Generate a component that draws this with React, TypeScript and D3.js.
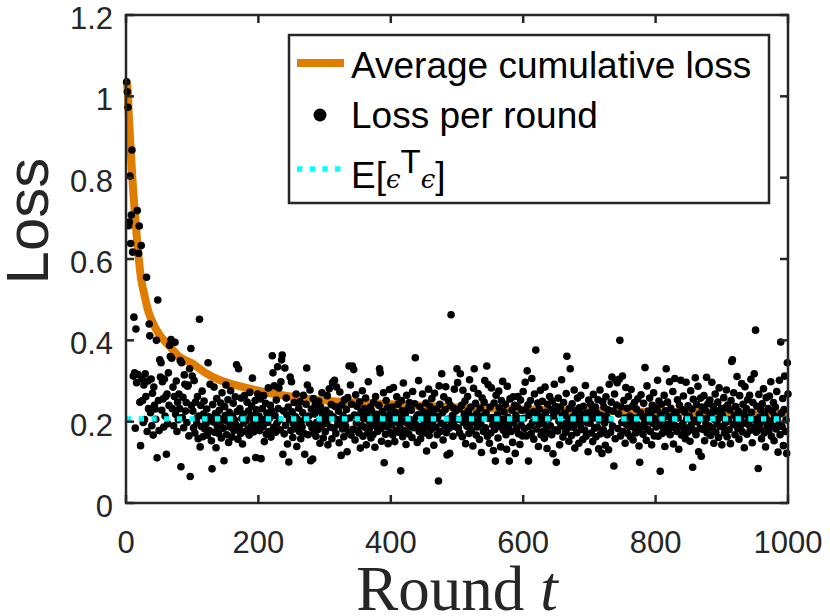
import React from "react";
import * as d3 from "d3";

// ---- data ----
// loss per round t = 1..1000, in thousandths
const lossPerRoundMilli: number[] = [
  1036, 1011, 973, 682, 691, 804, 638, 708, 868, 617,
  312, 457, 320, 184, 428, 296, 719, 316, 614, 681,
  248, 141, 633, 305, 252, 198, 290, 205, 318, 262,
  555, 176, 300, 232, 440, 411, 222, 305, 190, 270,
  167, 285, 240, 231, 206, 400, 111, 499, 252, 178,
  352, 310, 345, 228, 298, 256, 187, 305, 214, 262,
  120, 268, 195, 320, 240, 388, 360, 402, 356, 232,
  285, 190, 262, 395, 218, 300, 176, 248, 205, 268,
  232, 350, 89, 345, 210, 260, 185, 315, 292, 226,
  247, 198, 287, 290, 165, 330, 65, 380, 240, 312,
  226, 185, 301, 172, 248, 207, 196, 262, 158, 214,
  452, 138, 240, 188, 275, 163, 219, 251, 182, 204,
  195, 231, 167, 345, 212, 178, 292, 206, 153, 84,
  242, 199, 285, 174, 220, 136, 257, 188, 210, 171,
  228, 193, 246, 160, 271, 205, 184, 104, 237, 215,
  290, 168, 201, 254, 149, 223, 187, 276, 198, 162,
  213, 245, 178, 204, 261, 192, 340, 225, 157, 330,
  186, 232, 171, 258, 208, 145, 219, 197, 264, 176,
  203, 105, 248, 181, 226, 167, 272, 210, 189, 238,
  307, 194, 175, 216, 252, 112, 229, 183, 268, 201,
  214, 178, 256, 109, 193, 232, 187, 264, 151, 206,
  245, 169, 221, 198, 283, 176, 209, 240, 162, 227,
  362, 320, 186, 288, 215, 174, 253, 196, 335, 232,
  283, 204, 180, 298, 352, 364, 120, 226, 170, 332,
  191, 258, 217, 145, 236, 101, 205, 310, 178, 298,
  224, 161, 195, 247, 183, 212, 268, 139, 206, 190,
  233, 176, 249, 158, 201, 187, 222, 265, 171, 120,
  208, 243, 332, 290, 168, 214, 196, 278, 104, 231,
  185, 108, 257, 173, 219, 242, 164, 198, 226, 181,
  250, 202, 147, 236, 189, 271, 213, 160, 224, 195,
  175, 228, 196, 264, 143, 207, 281, 219, 186, 242,
  158, 296, 212, 184, 302, 237, 171, 285, 205, 193,
  226, 148, 273, 199, 117, 241, 182, 215, 163, 254,
  201, 188, 230, 126, 259, 174, 337, 209, 290, 167,
  243, 337, 181, 328, 216, 155, 266, 197, 238, 178,
  211, 172, 249, 135, 224, 190, 276, 164, 207, 232,
  186, 258, 143, 219, 171, 298, 202, 184, 236, 160,
  227, 195, 168, 247, 211, 137, 262, 189, 218, 176,
  204, 240, 330, 320, 183, 152, 225, 198, 271, 99,
  215, 169, 252, 188, 234, 146, 206, 279, 173, 221,
  192, 236, 167, 284, 208, 151, 223, 179, 261, 198,
  243, 174, 210, 186, 79, 252, 227, 163, 295, 201,
  178, 219, 144, 265, 196, 232, 170, 247, 205, 188,
  228, 161, 274, 202, 185, 244, 357, 193, 212, 149,
  217, 301, 176, 236, 158, 209, 189, 268, 224, 172,
  205, 183, 246, 128, 221, 195, 280, 166, 238, 210,
  181, 257, 199, 225, 142, 270, 207, 186, 231, 168,
  212, 54, 288, 243, 176, 196, 318, 222, 155, 261,
  190, 229, 286, 173, 118, 206, 252, 184, 122, 240,
  463, 197, 215, 164, 233, 280, 188, 226, 206, 330,
  296, 184, 231, 172, 318, 205, 240, 163, 277, 198,
  219, 251, 146, 208, 189, 262, 226, 171, 303, 194,
  236, 178, 213, 140, 282, 330, 199, 245, 167, 220,
  187, 269, 203, 156, 233, 195, 124, 258, 214, 176,
  248, 301, 185, 222, 337, 164, 291, 208, 147, 236,
  172, 283, 210, 192, 129, 246, 181, 103, 265, 200,
  217, 160, 275, 234, 188, 138, 252, 206, 299, 179,
  224, 194, 243, 168, 132, 287, 211, 185, 103, 256,
  203, 176, 228, 149, 261, 197, 240, 122, 215, 183,
  237, 262, 170, 207, 144, 253, 191, 228, 165, 274,
  208, 183, 297, 229, 165, 325, 241, 103, 216, 188,
  252, 171, 306, 198, 224, 157, 268, 203, 376, 182,
  219, 246, 139, 231, 194, 277, 168, 212, 250, 176,
  201, 159, 285, 223, 186, 134, 243, 207, 172, 262,
  190, 229, 168, 251, 121, 214, 292, 180, 237, 100,
  226, 177, 258, 201, 143, 236, 189, 303, 215, 162,
  247, 195, 221, 174, 269, 361, 184, 208, 152, 233,
  330, 199, 166, 244, 212, 186, 278, 135, 227, 201,
  173, 258, 210, 147, 234, 192, 265, 181, 219, 156,
  238, 205, 179, 289, 164, 221, 197, 126, 253, 214,
  196, 243, 172, 228, 151, 267, 209, 184, 236, 163,
  221, 187, 254, 133, 204, 278, 170, 215, 122, 249,
  180, 236, 197, 142, 261, 213, 168, 229, 131, 292,
  205, 174, 248, 310, 189, 226, 91, 268, 158, 302,
  241, 296, 183, 219, 304, 400, 165, 236, 198, 312,
  176, 252, 209, 147, 284, 193, 233, 171, 262, 188,
  214, 163, 279, 201, 238, 155, 186, 247, 209, 172,
  231, 194, 256, 178, 140, 100, 222, 266, 187, 213,
  169, 245, 197, 333, 211, 154, 288, 182, 226, 201,
  258, 176, 219, 143, 240, 196, 271, 165, 207, 234,
  187, 229, 302, 164, 251, 196, 78, 218, 243, 171,
  206, 184, 265, 139, 227, 330, 192, 248, 175, 212,
  298, 168, 233, 201, 186, 274, 145, 219, 306, 190,
  223, 176, 254, 209, 132, 241, 188, 302, 167, 230,
  196, 263, 181, 224, 158, 297, 207, 174, 239, 185,
  213, 152, 276, 192, 231, 88, 255, 178, 204, 308,
  168, 242, 199, 287, 126, 219, 183, 258, 115, 236,
  207, 181, 264, 153, 228, 195, 309, 172, 244, 211,
  189, 253, 166, 221, 297, 184, 238, 147, 205, 268,
  174, 226, 195, 248, 161, 283, 209, 188, 232, 143,
  216, 187, 259, 172, 234, 198, 278, 163, 241, 205,
  180, 229, 146, 252, 348, 352, 193, 271, 215, 168,
  237, 201, 311, 184, 226, 157, 264, 209, 192, 294,
  175, 243, 218, 136, 286, 197, 232, 169, 254, 211,
  192, 265, 179, 304, 223, 148, 247, 186, 318, 205,
  425, 174, 238, 196, 85, 267, 211, 183, 229, 158,
  244, 199, 281, 172, 216, 138, 259, 205, 187, 232,
  177, 263, 201, 298, 164, 226, 189, 247, 153, 214,
  236, 182, 274, 209, 125, 193, 302, 168, 396, 221,
  188, 257, 141, 230, 312, 176, 204, 122, 345, 268,
];

// average cumulative loss, read at selected rounds
const avgRounds: number[] = [1, 2, 3, 4, 5, 6, 8, 10, 13, 16, 19, 23, 28, 34, 40, 50, 66, 80, 100, 120, 142, 170, 200, 243, 293, 350, 400, 500, 600, 700, 800, 900, 1000];
const avgLoss: number[] = [1.036, 1.024, 1.007, 0.96, 0.93, 0.9, 0.845, 0.79, 0.72, 0.66, 0.605, 0.55, 0.51, 0.47, 0.445, 0.415, 0.385, 0.36, 0.343, 0.32, 0.302, 0.288, 0.276, 0.263, 0.253, 0.247, 0.243, 0.235, 0.23, 0.227, 0.224, 0.222, 0.219];

const noiseLevel = 0.207; // E[eps^T eps]

const xTicks: number[] = [0, 200, 400, 600, 800, 1000];
const yTicks: number[] = [0, 0.2, 0.4, 0.6, 0.8, 1, 1.2];
const legendLabels: string[] = ["Average cumulative loss", "Loss per round"];

// ---- styles ----
const W = 830;
const H = 616;
const axisColor = "#262626";
const orange = "#E07D00";
const cyan = "#00FFFF";
const sans = "'Liberation Sans', Arial, Helvetica, sans-serif";
const serif = "'Liberation Serif', 'Times New Roman', serif";

export default function App() {
  const left = 126, right = 788, top = 15, bottom = 503;
  const x = d3.scaleLinear().domain([0, 1000]).range([left, right]);
  const y = d3.scaleLinear().domain([0, 1.2]).range([bottom, top]);

  const points = lossPerRoundMilli.map((v, i) => ({ t: i + 1, v: v / 1000 }));
  const avg = avgRounds.map((t, i) => ({ t, v: avgLoss[i] }));

  const line = d3
    .line<{ t: number; v: number }>()
    .x((d) => x(d.t))
    .y((d) => y(d.v))
    .curve(d3.curveMonotoneX);

  const tickLen = 8;
  const axW = 2.5;

  return (
    <div style={{ position: "absolute", left: 0, top: 0 }}>
      <svg width={W} height={H} style={{ display: "block", background: "#fff" }}>
        <rect x={0} y={0} width={W} height={H} fill="#fff" />
        {/* average cumulative loss */}
        <path d={line(avg) || ""} fill="none" stroke={orange} strokeWidth={8} strokeLinejoin="round" />
        {/* loss per round */}
        <g fill="#000">
          {points.map((p) => (
            <circle key={p.t} cx={x(p.t)} cy={y(p.v)} r={3.8} />
          ))}
        </g>
        {/* noise level */}
        <line
          x1={x(0)}
          x2={x(1000)}
          y1={y(noiseLevel)}
          y2={y(noiseLevel)}
          stroke={cyan}
          strokeWidth={5.3}
          strokeDasharray="5.3 7.4"
        />
        {/* axes box */}
        <rect x={left} y={top} width={right - left} height={bottom - top} fill="none" stroke={axisColor} strokeWidth={axW} />
        {xTicks.map((t) => (
          <g key={"x" + t}>
            <line x1={x(t)} x2={x(t)} y1={bottom} y2={bottom - tickLen} stroke={axisColor} strokeWidth={axW} />
            <line x1={x(t)} x2={x(t)} y1={top} y2={top + tickLen} stroke={axisColor} strokeWidth={axW} />
            <text x={x(t)} y={553} textAnchor="middle" fontFamily={sans} fontSize={31} fill={axisColor}>
              {t}
            </text>
          </g>
        ))}
        {yTicks.map((v) => (
          <g key={"y" + v}>
            <line x1={left} x2={left + tickLen} y1={y(v)} y2={y(v)} stroke={axisColor} strokeWidth={axW} />
            <line x1={right} x2={right - tickLen} y1={y(v)} y2={y(v)} stroke={axisColor} strokeWidth={axW} />
            <text x={113} y={y(v) + 14} textAnchor="end" fontFamily={sans} fontSize={31} fill={axisColor}>
              {String(v)}
            </text>
          </g>
        ))}
        {/* axis labels */}
        <text transform="translate(48,221) rotate(-90)" textAnchor="middle" fontFamily={sans} fontSize={60} fill={axisColor}>
          Loss
        </text>
        <text x={457} y={610} textAnchor="middle" fontFamily={serif} fontSize={63} fill={axisColor}>
          Round <tspan fontStyle="italic">t</tspan>
        </text>
        {/* legend */}
        <g>
          <rect x={289} y={35} width={480} height={168} fill="#fff" stroke={axisColor} strokeWidth={axW} />
          <line x1={297} x2={344} y1={63} y2={63} stroke={orange} strokeWidth={8} />
          <text x={351} y={78} fontFamily={sans} fontSize={37} fill="#000">
            {legendLabels[0]}
          </text>
          <circle cx={320} cy={115} r={6.5} fill="#000" />
          <text x={351} y={128} fontFamily={sans} fontSize={37} fill="#000">
            {legendLabels[1]}
          </text>
          <line x1={297} x2={344} y1={169} y2={169} stroke={cyan} strokeWidth={5.3} strokeDasharray="5.3 7.4" />
          <text x={351} y={188} fontFamily={sans} fontSize={37} fill="#000">
            E[
            <tspan fontFamily="'DejaVu Serif', serif" fontStyle="italic" fontSize={26}>{"\u03F5"}</tspan>
            <tspan dy={-15} fontSize={33}>T</tspan>
            <tspan dy={15} fontFamily="'DejaVu Serif', serif" fontStyle="italic" fontSize={26}>{"\u03F5"}</tspan>
            ]
          </text>
        </g>
      </svg>
    </div>
  );
}
